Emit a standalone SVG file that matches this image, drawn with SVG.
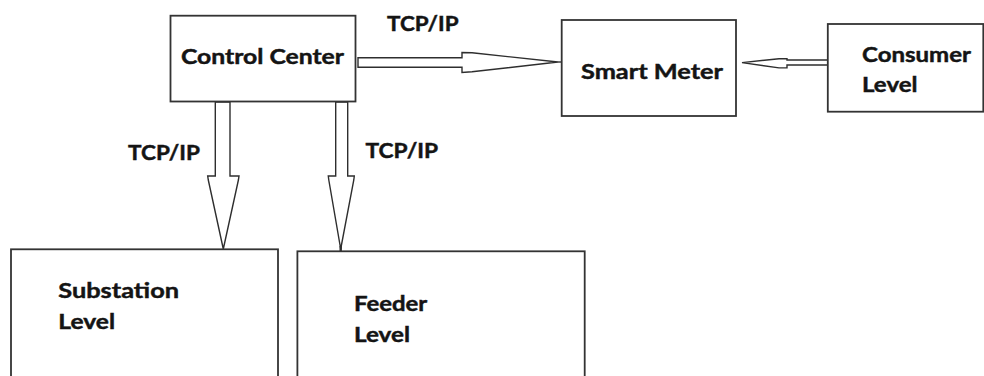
<svg xmlns="http://www.w3.org/2000/svg" width="984" height="376" viewBox="0 0 984 376">
  <style>
    .box { fill: #ffffff; stroke: #333333; stroke-width: 1.8; }
    .pipe { fill: #ffffff; stroke: #2e2e2e; stroke-width: 1.4; stroke-linejoin: miter; }
    .tip { stroke: #2e2e2e; stroke-width: 1.4; fill: none; }
    .lbl { font-family: Lato, "Open Sans", "Liberation Sans", sans-serif; font-weight: 700; font-size: 21px; fill: #141414; stroke: #141414; stroke-width: 0.45; }
  </style>
  <rect width="984" height="376" fill="#ffffff"/>

  <!-- block arrows between the levels -->
  <g id="connectors">
    <!-- Control Center to Smart Meter -->
    <polygon class="pipe" points="358,57.7 462,57.7 462,52.5 472,52.8 558,62 472,71.8 462,72.5 462,67.3 358,67.3"/>
    <line class="tip" x1="558" y1="62" x2="566" y2="62"/>
    <!-- Consumer Level to Smart Meter -->
    <polygon class="pipe" points="828,60 787,60 787,58.7 779,58.7 742,62.6 779,67.9 787,67.9 787,65 828,65"/>
    <!-- Control Center to Substation Level -->
    <polygon class="pipe" points="215.3,102 230,102 230,176 239,176 238.4,180 223.3,249 208.3,180 207.7,176 215.3,176"/>
    <!-- Control Center to Feeder Level -->
    <polygon class="pipe" points="335.7,102 347.7,102 347.7,176 354.3,176 353.8,180 340.7,249 328.8,180 328.3,176 335.7,176"/>
    <line x1="340.7" y1="246" x2="340.7" y2="252" stroke="#2e2e2e" stroke-width="2.4"/>
    <!-- protocol labels -->
    <text class="lbl" x="387" y="30.7" textLength="71.5" lengthAdjust="spacingAndGlyphs">TCP/IP</text>
    <text class="lbl" x="128" y="160" textLength="72" lengthAdjust="spacingAndGlyphs">TCP/IP</text>
    <text class="lbl" x="365.5" y="158.3" textLength="72.5" lengthAdjust="spacingAndGlyphs">TCP/IP</text>
  </g>

  <g id="control-center">
    <rect class="box" x="170.5" y="15.7" width="185" height="85.8"/>
    <text class="lbl" x="181" y="64" textLength="163" lengthAdjust="spacingAndGlyphs">Control Center</text>
  </g>

  <g id="smart-meter">
    <rect class="box" x="561.7" y="20" width="174.3" height="96"/>
    <text class="lbl" x="581" y="79.3" textLength="142" lengthAdjust="spacingAndGlyphs">Smart Meter</text>
  </g>

  <g id="consumer-level">
    <rect class="box" x="827.8" y="24" width="155.5" height="87.7"/>
    <text class="lbl" x="862" y="61.7" textLength="109" lengthAdjust="spacingAndGlyphs">Consumer</text>
    <text class="lbl" x="862" y="91.7" textLength="55.5" lengthAdjust="spacingAndGlyphs">Level</text>
  </g>

  <g id="substation-level">
    <rect class="box" x="11" y="249.3" width="267" height="140"/>
    <text class="lbl" x="58.3" y="298.3" textLength="120.7" lengthAdjust="spacingAndGlyphs">Substation</text>
    <text class="lbl" x="58.3" y="329.3" textLength="56.7" lengthAdjust="spacingAndGlyphs">Level</text>
  </g>

  <g id="feeder-level">
    <rect class="box" x="297.4" y="251.3" width="287.3" height="140"/>
    <text class="lbl" x="354" y="311" textLength="73.3" lengthAdjust="spacingAndGlyphs">Feeder</text>
    <text class="lbl" x="354" y="341.7" textLength="56" lengthAdjust="spacingAndGlyphs">Level</text>
  </g>
</svg>
